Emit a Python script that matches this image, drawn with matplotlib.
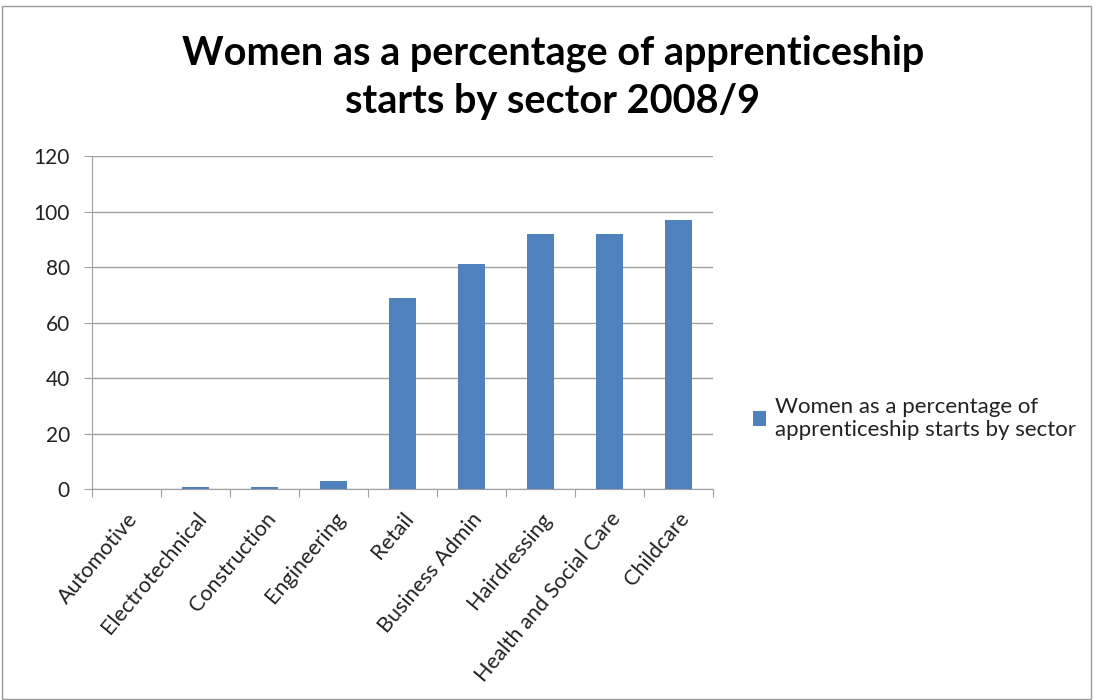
import matplotlib
matplotlib.use("Agg")
import matplotlib.pyplot as plt
from matplotlib.patches import Rectangle
import numpy as np

# data
sectors = ["Automotive", "Electrotechnical", "Construction", "Engineering", "Retail",
           "Business Admin", "Hairdressing", "Health and Social Care", "Childcare"]
women_pct = [0, 1, 1, 3, 69, 81, 92, 92, 97]
series_name = "Women as a percentage of\napprenticeship starts by sector"
title = "Women as a percentage of apprenticeship\nstarts by sector 2008/9"

plt.rcParams['font.family'] = ['Lato', 'DejaVu Sans']

fig = plt.figure(figsize=(10.95, 7), dpi=100)
ax = fig.add_axes([0.084, 0.301, 0.567, 0.476])

x = np.arange(len(sectors))
ax.bar(x, women_pct, width=0.4, color="#4f81bd", label=series_name, zorder=3)

ax.set_xlim(-0.5, len(sectors) - 0.5)
ax.set_ylim(0, 120)
ax.set_yticks(range(0, 121, 20))
ax.yaxis.grid(True, color="#a0a0a0", linewidth=1, zorder=0)
ax.tick_params(axis='y', labelsize=15, length=6, color="#a0a0a0", pad=10, labelcolor="#222222")

# ticks between categories, labels at centres
ax.set_xticks(np.arange(-0.5, len(sectors), 1))
ax.set_xticklabels([])
ax.set_xticks(x, minor=True)
ax.set_xticklabels(sectors, minor=True, rotation=50, ha='right', va='top',
                   rotation_mode='anchor', fontsize=15.5, color="#222222")
ax.tick_params(axis='x', which='major', length=6, color="#a0a0a0")
ax.tick_params(axis='x', which='minor', length=0, pad=14)

for side in ["top", "right"]:
    ax.spines[side].set_visible(False)
for side in ["left", "bottom"]:
    ax.spines[side].set_color("#a0a0a0")

fig.text(0.505, 0.889, title, ha='center', va='center', fontsize=28.5,
         fontweight='bold', linespacing=1.37)

ax.legend(loc='center left', bbox_to_anchor=(1.064, 0.213), frameon=False, fontsize=16,
          borderaxespad=0, borderpad=0, handlelength=0.6, handleheight=0.6,
          handletextpad=0.4, labelcolor="#222222")

fig.patches.append(Rectangle((0.002, 0.002), 0.994, 0.99, transform=fig.transFigure,
                             fill=False, edgecolor="#999999", linewidth=1))

fig.savefig("out.png", dpi=100)
